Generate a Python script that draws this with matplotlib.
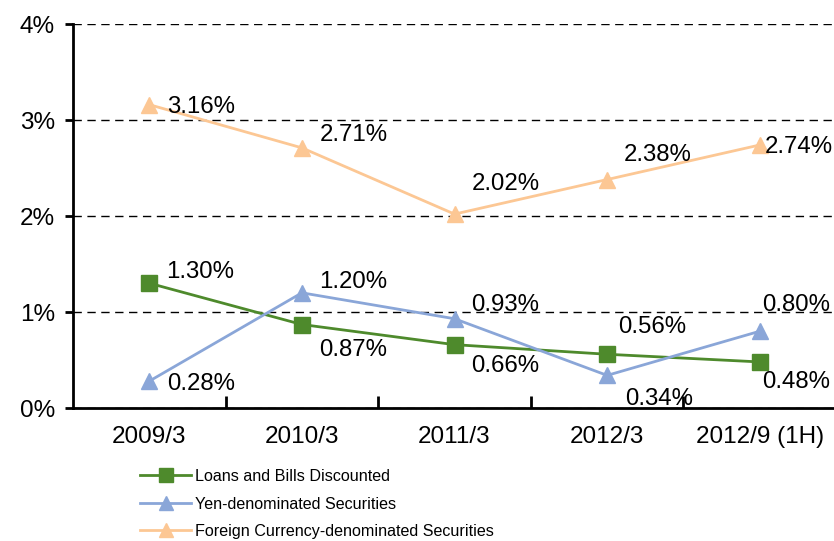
import matplotlib.pyplot as plt
import numpy as np

plt.rcParams['font.family'] = ['Liberation Sans', 'DejaVu Sans']

# Daten
periods = ['2009/3', '2010/3', '2011/3', '2012/3', '2012/9 (1H)']
loans = [1.30, 0.87, 0.66, 0.56, 0.48]
yen_sec = [0.28, 1.20, 0.93, 0.34, 0.80]
fx_sec = [3.16, 2.71, 2.02, 2.38, 2.74]

# label offsets in pixels (dx, dy)
loans_off = [(17, 11), (17, -25), (17, -21), (11, 27), (2, -20)]
yen_off = [(18, -3), (17, 11), (17, 14), (18, -24), (2, 26)]
fx_off = [(18, -2), (18, 13), (17, 30), (17, 25), (5, -2)]

x = np.arange(len(periods))

fig = plt.figure(figsize=(8.34, 5.41), dpi=100)
ax = fig.add_axes([0.0875, 0.2458, 0.915, 0.7098])

series = [
    (loans, 'Loans and Bills Discounted', '#4E8A2C', 's', loans_off),
    (yen_sec, 'Yen-denominated Securities', '#8AA6D8', '^', yen_off),
    (fx_sec, 'Foreign Currency-denominated Securities', '#FCC794', '^', fx_off),
]

for vals, name, col, mk, offs in series:
    ax.plot(x, vals, color=col, marker=mk, markersize=11.5, linewidth=2, label=name)
    for xi, v, (dx, dy) in zip(x, vals, offs):
        ax.annotate(f'{v:.2f}%', (xi, v), xytext=(dx, dy), textcoords='offset pixels',
                    ha='left', va='center', fontsize=17.3, color='black')

ax.set_xlim(-0.5, 4.5)
ax.set_ylim(0, 4)
ax.set_yticks([0, 1, 2, 3, 4])
ax.set_yticklabels(['0%', '1%', '2%', '3%', '4%'], fontsize=17.5)
ax.set_xticks(x)
ax.set_xticklabels(periods, fontsize=17.5)
ax.set_xticks(np.arange(0.5, 4, 1), minor=True)
ax.tick_params(axis='x', which='major', length=0, pad=13)
ax.tick_params(axis='x', which='minor', direction='in', length=9, width=2)
ax.tick_params(axis='y', direction='out', length=6, width=2, pad=7)

ax.grid(True, axis='y', linestyle=(0, (6, 4)), color='black', linewidth=1)
ax.set_axisbelow(True)
for s in ['top', 'right']:
    ax.spines[s].set_visible(False)
ax.spines['left'].set_linewidth(2)
ax.spines['bottom'].set_linewidth(2)

fig.legend(loc='upper left', bbox_to_anchor=(0.160, 0.145), frameon=False, fontsize=11.6,
           handlelength=3.2, handletextpad=0.25, labelspacing=0.78, borderaxespad=0,
           markerscale=0.9)

fig.savefig('out.png', dpi=100)
